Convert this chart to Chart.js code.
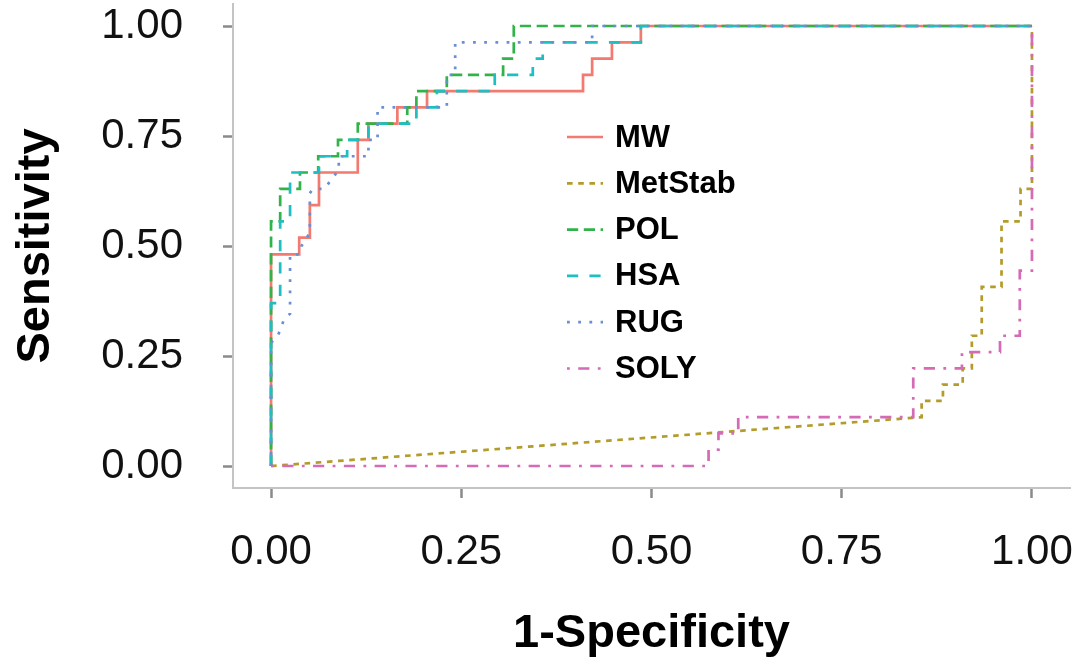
<!DOCTYPE html>
<html>
<head>
<meta charset="utf-8">
<script src="https://cdn.jsdelivr.net/npm/chart.js@4"></script>
<style>
    html, body { margin: 0; padding: 0; background: #fff; }
    #wrap { width: 1078px; height: 662px; }
</style>
</head>
<body>
<div id="wrap"><canvas id="roc_chart"></canvas></div>
<script>
// series names and axis ticks
const seriesNames = ['MW', 'MetStab', 'POL', 'HSA', 'RUG', 'SOLY'];
const tickValues = [0, 0.25, 0.5, 0.75, 1];

// ROC vertices (1-specificity, sensitivity)
const mwX = [0, 0, 0.037, 0.037, 0.051, 0.051, 0.063, 0.063, 0.114, 0.114, 0.128, 0.128, 0.166, 0.166, 0.205, 0.205, 0.41, 0.41, 0.422, 0.422, 0.448, 0.448, 0.486, 0.486, 1];
const mwY = [0, 0.481, 0.481, 0.519, 0.519, 0.593, 0.593, 0.667, 0.667, 0.741, 0.741, 0.778, 0.778, 0.815, 0.815, 0.852, 0.852, 0.889, 0.889, 0.926, 0.926, 0.963, 0.963, 1, 1];

const metX = [0, 0.855, 0.855, 0.883, 0.883, 0.909, 0.909, 0.921, 0.921, 0.934, 0.934, 0.96, 0.96, 0.985, 0.985, 1, 1];
const metY = [0, 0.111, 0.148, 0.148, 0.185, 0.185, 0.222, 0.222, 0.296, 0.296, 0.407, 0.407, 0.556, 0.556, 0.63, 0.63, 1];

const polX = [0, 0, 0.012, 0.012, 0.038, 0.038, 0.062, 0.062, 0.088, 0.088, 0.114, 0.114, 0.179, 0.179, 0.191, 0.191, 0.231, 0.231, 0.305, 0.305, 0.319, 0.319, 1];
const polY = [0, 0.556, 0.556, 0.63, 0.63, 0.667, 0.667, 0.704, 0.704, 0.741, 0.741, 0.778, 0.778, 0.815, 0.815, 0.852, 0.852, 0.889, 0.889, 0.926, 0.926, 1, 1];

const hsaX = [0, 0, 0.012, 0.012, 0.025, 0.025, 0.063, 0.063, 0.1, 0.1, 0.128, 0.128, 0.191, 0.191, 0.218, 0.218, 0.294, 0.294, 0.344, 0.344, 0.357, 0.357, 0.486, 0.486, 1];
const hsaY = [0, 0.37, 0.37, 0.556, 0.556, 0.667, 0.667, 0.704, 0.704, 0.741, 0.741, 0.778, 0.778, 0.815, 0.815, 0.852, 0.852, 0.889, 0.889, 0.926, 0.926, 0.963, 0.963, 1, 1];

const rugX = [0, 0, 0.009, 0.017, 0.025, 0.025, 0.037, 0.04, 0.051, 0.051, 0.055, 0.07, 0.089, 0.089, 0.128, 0.128, 0.14, 0.14, 0.231, 0.231, 0.242, 0.242, 0.422, 0.422, 1];
const rugY = [0, 0.28, 0.296, 0.333, 0.346, 0.481, 0.481, 0.5, 0.53, 0.62, 0.63, 0.63, 0.673, 0.704, 0.704, 0.741, 0.741, 0.815, 0.815, 0.889, 0.889, 0.963, 0.963, 1, 1];

const solyX = [0, 0.575, 0.575, 0.588, 0.588, 0.614, 0.614, 0.844, 0.844, 0.908, 0.908, 0.958, 0.958, 0.984, 0.984, 1, 1];
const solyY = [0, 0, 0.037, 0.037, 0.074, 0.074, 0.111, 0.111, 0.222, 0.222, 0.259, 0.259, 0.296, 0.296, 0.444, 0.444, 1];

const allX = [mwX, metX, polX, hsaX, rugX, solyX];
const allY = [mwY, metY, polY, hsaY, rugY, solyY];

// styling
const lineColors = ['#F27A70', '#B39C2A', '#32B34A', '#1FBEC2', '#6A8FD4', '#D46BB4'];
const u = 2.8;
const lineDashes = [[], [2 * u, 2 * u], [4 * u, 2 * u], [4 * u, 4 * u], [1 * u, 3 * u], [1 * u, 3 * u, 4 * u, 3 * u]];
const fontFamily = '"Liberation Sans", Arial, sans-serif';

document.addEventListener('DOMContentLoaded', function () {
    const ctx = document.getElementById('roc_chart').getContext('2d');

    const datasets = seriesNames.map(function (name, i) {
        return {
            label: name,
            data: allX[i].map(function (x, j) { return { x: x, y: allY[i][j] }; }),
            borderColor: lineColors[i],
            backgroundColor: lineColors[i],
            borderWidth: 2.7,
            borderDash: lineDashes[i],
            borderCapStyle: 'butt',
            borderJoinStyle: 'miter',
            pointRadius: 0,
            showLine: true,
            fill: false,
            tension: 0,
            order: seriesNames.length - i   // first series drawn underneath
        };
    });

    // legend drawn inside the panel, like the original
    const insideLegend = {
        id: 'insideLegend',
        afterDatasetsDraw(chart) {
            const c = chart.ctx;
            const keyX0 = 567, keyX1 = 603, textX = 615, rowY0 = 137, rowStep = 46.3;
            c.save();
            chart.data.datasets.forEach(function (ds, i) {
                const y = rowY0 + i * rowStep;
                c.strokeStyle = ds.borderColor;
                c.lineWidth = ds.borderWidth;
                c.lineCap = 'butt';
                c.setLineDash(ds.borderDash);
                c.beginPath();
                c.moveTo(keyX0, y);
                c.lineTo(keyX1, y);
                c.stroke();
                c.setLineDash([]);
                c.fillStyle = '#000';
                c.font = 'bold 31px ' + fontFamily;
                c.textAlign = 'left';
                c.textBaseline = 'middle';
                c.fillText(ds.label, textX, y + 1);
            });
            c.restore();
        }
    };

    new Chart(ctx, {
        type: 'scatter',
        data: { datasets: datasets },
        plugins: [insideLegend],
        options: {
            responsive: true,
            maintainAspectRatio: false,
            animation: false,
            layout: { padding: { top: 4, right: 8, left: 0, bottom: 0 } },
            plugins: {
                legend: { display: false },
                tooltip: { enabled: false }
            },
            scales: {
                x: {
                    type: 'linear',
                    min: -0.05,
                    max: 1.05,
                    afterBuildTicks: function (s) { s.ticks = tickValues.map(function (v) { return { value: v }; }); },
                    afterFit: function (s) { s.height = 174; s.paddingLeft = 0; s.paddingRight = 0; },
                    ticks: {
                        callback: function (v) { return Number(v).toFixed(2); },
                        font: { family: fontFamily, size: 42 },
                        color: '#111',
                        padding: 29,
                        maxRotation: 0,
                        autoSkip: false
                    },
                    grid: { drawOnChartArea: false, drawTicks: true, tickLength: 10, tickColor: '#8a8a8a', tickWidth: 2.5 },
                    border: { display: true, color: '#c4c4c4', width: 2 },
                    title: {
                        display: true,
                        text: '1-Specificity',
                        color: '#000',
                        font: { family: fontFamily, size: 47, weight: 'bold' },
                        padding: { top: 0, bottom: 0 }
                    }
                },
                y: {
                    type: 'linear',
                    min: -0.05,
                    max: 1.05,
                    afterBuildTicks: function (s) { s.ticks = tickValues.map(function (v) { return { value: v }; }); },
                    afterFit: function (s) { s.width = 233; s.paddingTop = 0; s.paddingBottom = 0; },
                    ticks: {
                        callback: function (v) { return Number(v).toFixed(2); },
                        font: { family: fontFamily, size: 42 },
                        color: '#111',
                        padding: 40,
                        autoSkip: false
                    },
                    grid: { drawOnChartArea: false, drawTicks: true, tickLength: 10, tickColor: '#8a8a8a', tickWidth: 2.5 },
                    border: { display: true, color: '#c4c4c4', width: 2 },
                    title: {
                        display: true,
                        text: 'Sensitivity',
                        color: '#000',
                        font: { family: fontFamily, size: 47, weight: 'bold' },
                        padding: { top: 8, bottom: 0 }
                    }
                }
            }
        }
    });
});
</script>
</body>
</html>
